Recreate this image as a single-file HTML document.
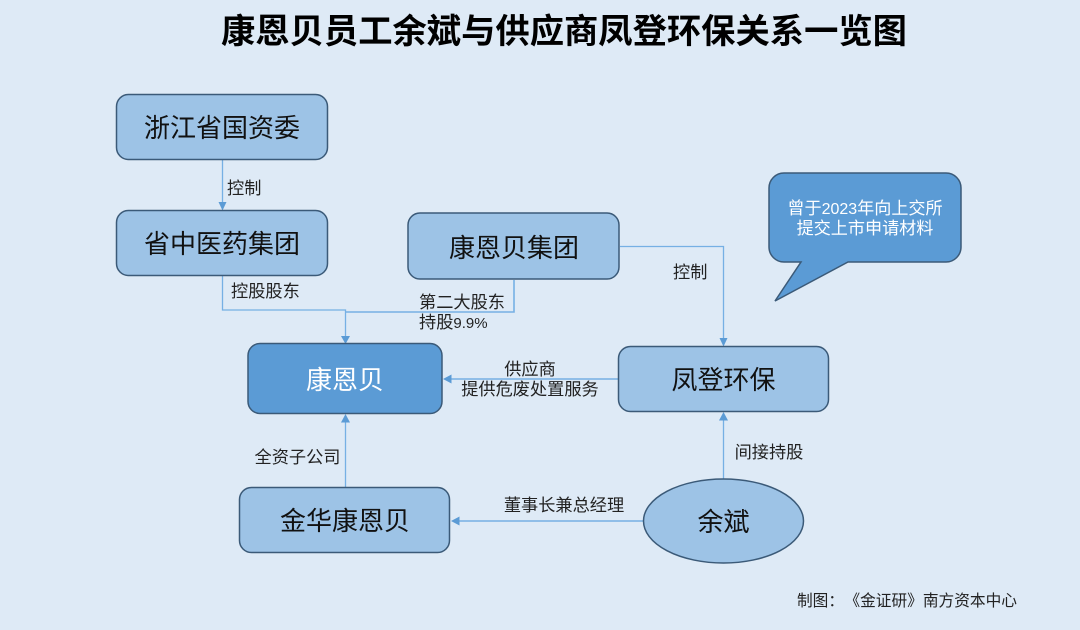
<!DOCTYPE html>
<html><head><meta charset="utf-8">
<style>
html,body{margin:0;padding:0;background:#deeaf6}
svg{display:block}
text{font-family:"Liberation Sans","Noto Sans CJK SC",sans-serif;fill:#111;text-anchor:middle}
.n{font-size:26px}
.l{font-size:17.2px;fill:#222}
.box{fill:#9dc3e6;stroke:#3b5a78;stroke-width:1.5}
.dk{fill:#5b9bd5}
.c{fill:none;stroke:#76b0e4;stroke-width:1.3}
.a{fill:#5b9bd5}
</style></head><body>
<svg width="1080" height="630" viewBox="0 0 1080 630" xmlns="http://www.w3.org/2000/svg">
<rect width="1080" height="630" fill="#deeaf6"/>
<text x="564" y="43" font-size="34.300" font-weight="700" style="fill:#000">康恩贝员工余斌与供应商凤登环保关系一览图</text>

<path class="c" d="M222.500 160V205"/>
<path class="a" d="M218.500 202h8l-4 8.500z"/>
<path class="c" d="M222.500 276V310H345.500V338"/>
<path class="c" style="stroke-width:1.600" d="M514 280V312H345.500"/>
<path class="a" d="M341 336h9l-4.500 8z"/>
<path class="c" d="M620 246.500H723.500V341"/>
<path class="a" d="M719.500 338h8l-4 8.500z"/>
<path class="c" style="stroke-width:1.500" d="M618 379H450"/>
<path class="a" d="M443 379l8.500-4.500v9z"/>
<path class="c" d="M345.500 488V420"/>
<path class="a" d="M345.500 414l4.500 8.500h-9z"/>
<path class="c" d="M723.500 479V420"/>
<path class="a" d="M723.500 412l4.500 8.500h-9z"/>
<path class="c" style="stroke-width:1.500" d="M644 521H458"/>
<path class="a" d="M451 521l8.500-4.500v9z"/>

<rect class="box" x="116.500" y="94.500" width="211" height="65" rx="12"/>
<rect class="box" x="116.500" y="210.500" width="211" height="65" rx="12"/>
<rect class="box" x="408" y="213" width="211" height="66" rx="12"/>
<rect class="box dk" x="248" y="343.500" width="194" height="70" rx="12"/>
<rect class="box" x="618.500" y="346.500" width="210" height="65" rx="12"/>
<rect class="box" x="239.500" y="487.500" width="210" height="65" rx="12"/>
<ellipse class="box" cx="723.500" cy="521" rx="80" ry="42"/>
<path class="box dk" d="M769 188a15 15 0 0 1 15-15H946a15 15 0 0 1 15 15V247a15 15 0 0 1-15 15H848L775 301 801 262H784a15 15 0 0 1-15-15Z"/>

<text class="n" x="222" y="137">浙江省国资委</text>
<text class="n" x="222" y="253">省中医药集团</text>
<text class="n" x="514" y="257">康恩贝集团</text>
<text class="n" x="345" y="389" style="fill:#fff">康恩贝</text>
<text class="n" x="723.500" y="389">凤登环保</text>
<text class="n" x="345" y="530">金华康恩贝</text>
<text class="n" x="723.500" y="531">余斌</text>

<text class="l" x="227" y="194" style="text-anchor:start">控制</text>
<text class="l" x="231" y="297" style="text-anchor:start">控股股东</text>
<text class="l" x="419" y="308" style="text-anchor:start">第二大股东</text>
<text class="l" x="419" y="328" style="text-anchor:start">持股<tspan font-size="15">9.9%</tspan></text>
<text class="l" x="673" y="278" style="text-anchor:start">控制</text>
<text class="l" x="530" y="375">供应商</text>
<text class="l" x="530" y="395">提供危废处置服务</text>
<text class="l" x="297.500" y="463">全资子公司</text>
<text class="l" x="769" y="458">间接持股</text>
<text class="l" x="564" y="511">董事长兼总经理</text>
<text x="865" y="214" font-size="17.100" style="fill:#fff">曾于<tspan font-size="16">2023</tspan>年向上交所</text>
<text x="865" y="234" font-size="17.100" style="fill:#fff">提交上市申请材料</text>
<text x="797" y="606" font-size="15.700" style="fill:#222;text-anchor:start">制图：</text>
<text x="1017" y="606" font-size="15.700" style="fill:#222;text-anchor:end">《金证研》南方资本中心</text>
</svg>
</body></html>
